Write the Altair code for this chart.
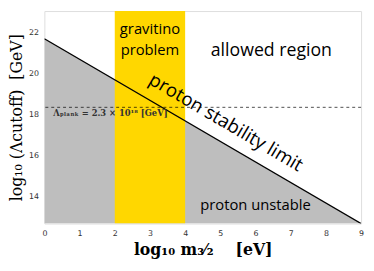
import altair as alt
import pandas as pd

# limits
x_domain = [0, 9]
y_domain = [12.7, 23.05]

# axis ticks
x_ticks = [0, 1, 2, 3, 4, 5, 6, 7, 8, 9]
y_ticks = [14, 16, 18, 20, 22]

# proton stability limit line
limit_x = [0, 9]
limit_y = [21.7, 12.7]

# gravitino problem band
band_lo = [2]
band_hi = [4]

# Planck scale
planck_y = [18.36]

# region labels
lab_text = ["gravitino", "problem", "allowed region", "proton unstable"]
lab_x = [3.0, 3.0, 6.45, 6.0]
lab_y = [22.15, 21.15, 21.1, 13.6]
lab_size = [15, 15, 18, 15]

W, H = 322, 216
angle = 30.5

line_df = pd.DataFrame({"x": limit_x, "y": limit_y, "base": [y_domain[0]] * 2})
band_df = pd.DataFrame({"x": band_lo, "x2": band_hi, "y": [y_domain[0]], "y2": [y_domain[1]]})
planck_df = pd.DataFrame({"y": planck_y})
lab_df = pd.DataFrame({"t": lab_text, "x": lab_x, "y": lab_y, "s": lab_size})
stab_df = pd.DataFrame({"t": ["proton stability limit"], "x": [5.16], "y": [17.62]})
pl_df = pd.DataFrame({"t": ["Λₚₗₐₙₖ = 2.3 × 10¹⁸ [GeV]"], "x": [0.25], "y": [17.92]})

xs = alt.Scale(domain=x_domain, nice=False, zero=False)
ys = alt.Scale(domain=y_domain, nice=False, zero=False)

NB = "\u00a0"
xax = alt.Axis(values=x_ticks, title="log₁₀" + NB + "m₃⁄₂" + NB * 4 + "[eV]", ticks=False, grid=False,
               labelFontSize=8, labelColor="#333", labelPadding=6, labelFont="DejaVu Sans",
               labelOverlap=False, labelFlush=False, labelBound=False,
               titleFont="DejaVu Serif", titleFontSize=16, titleFontWeight="bold", titlePadding=5,
               domain=False)
yax = alt.Axis(values=y_ticks, title="log₁₀" + NB + "(Λcutoff)" + NB * 2 + "[GeV]", ticks=False, grid=False,
               labelFontSize=8, labelColor="#333", labelPadding=6, labelFont="DejaVu Sans",
               labelOverlap=False,
               titleFont="DejaVu Serif", titleFontSize=16, titleFontWeight="normal", titlePadding=4,
               domain=False)

X = lambda f: alt.X(f, type="quantitative", scale=xs, axis=xax)
Y = lambda f: alt.Y(f, type="quantitative", scale=ys, axis=yax)

area = alt.Chart(line_df).mark_area(color="#bebebe", opacity=1, clip=True).encode(
    x=X("x"), y=Y("y"), y2="base:Q",
)
band = alt.Chart(band_df).mark_rect(color="#ffd700", clip=True).encode(
    x=X("x"), x2="x2:Q", y=Y("y"), y2="y2:Q"
)
line = alt.Chart(line_df).mark_line(color="black", strokeWidth=1.4, clip=True).encode(
    x=X("x"), y=Y("y")
)
dash = alt.Chart(planck_df).mark_rule(color="black", strokeWidth=0.7, strokeDash=[3, 3]).encode(
    y=Y("y")
)
labels = alt.Chart(lab_df).mark_text(font="Open Sans", color="black", baseline="middle").encode(
    x=X("x"), y=Y("y"), text="t:N", size=alt.Size("s:Q", scale=None, legend=None)
)
stab = alt.Chart(stab_df).mark_text(font="Open Sans", fontSize=19, angle=angle, color="black",
                                    baseline="middle").encode(x=X("x"), y=Y("y"), text="t:N")
pl = alt.Chart(pl_df).mark_text(font="DejaVu Serif", fontSize=8.5, fontWeight="bold", color="#333",
                                align="left", baseline="alphabetic").encode(x=X("x"), y=Y("y"), text="t:N")

chart = alt.layer(area, band, line, dash, labels, stab, pl).properties(
    width=W, height=H
).configure_view(stroke="black", strokeWidth=1.2).configure(padding={"left": 0, "top": 1, "right": 2, "bottom": 0})

chart.save("out.html", embed_options={"renderer": "svg", "actions": False})
